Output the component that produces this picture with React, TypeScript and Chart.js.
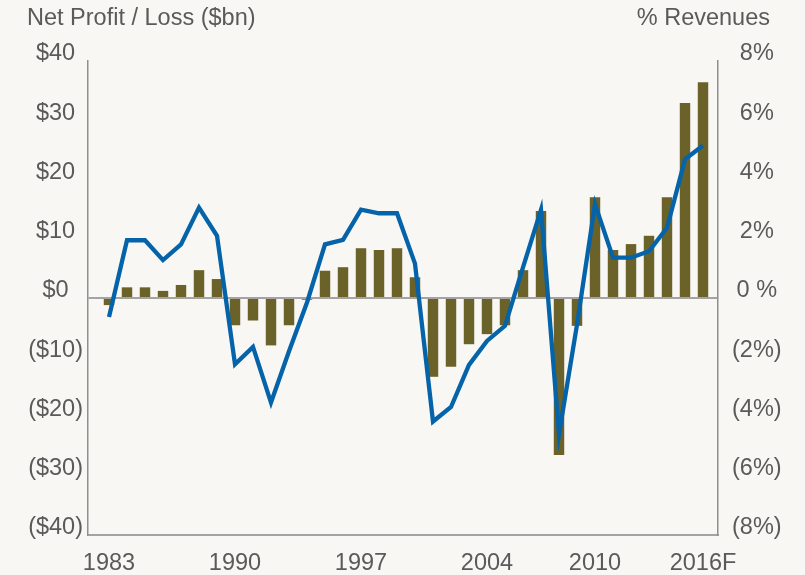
import React, { useEffect, useRef } from 'react';
import { Chart, registerables } from 'chart.js';

Chart.register(...registerables);

// ---- data ----
const years: string[] = [
  '1983', '1984', '1985', '1986', '1987', '1988', '1989', '1990', '1991', '1992',
  '1993', '1994', '1995', '1996', '1997', '1998', '1999', '2000', '2001', '2002',
  '2003', '2004', '2005', '2006', '2007', '2008', '2009', '2010', '2011', '2012',
  '2013', '2014', '2015', '2016F',
];

// Net profit / loss, $bn (bars, left axis)
const netProfit: number[] = [
  -1.2, 1.8, 1.8, 1.2, 2.2, 4.7, 3.2, -4.6, -3.8, -8.0,
  -4.6, -0.3, 4.6, 5.2, 8.4, 8.1, 8.4, 3.5, -13.3, -11.6,
  -7.8, -6.1, -4.6, 4.7, 14.7, -26.5, -4.7, 17.0, 8.1, 9.1,
  10.5, 17.0, 32.9, 36.4,
];

// Net margin, % of revenues (line, right axis)
const pctRevenue: number[] = [
  -0.64, 1.95, 1.95, 1.28, 1.81, 3.05, 2.1, -2.24, -1.65, -3.53,
  -1.8, -0.15, 1.81, 1.96, 2.98, 2.86, 2.86, 1.16, -4.17, -3.68,
  -2.26, -1.45, -0.94, 1.03, 2.98, -4.6, -0.9, 3.17, 1.36, 1.36,
  1.58, 2.37, 4.68, 5.15,
];

const xTickYears: string[] = ['1983', '1990', '1997', '2004', '2010', '2016F'];

const leftTitle = 'Net Profit / Loss ($bn)';
const rightTitle = '% Revenues';

// ---- styles ----
const FONT = '"Liberation Sans", Arial, Helvetica, sans-serif';
const TEXT = '#5a5a5a';
const OLIVE = '#6b6229';
const BLUE = '#0563a9';
const BG = '#f8f7f4';
const AXIS = '#8f8f8f';

export default function App() {
  const ref = useRef<HTMLCanvasElement | null>(null);

  useEffect(() => {
    if (!ref.current) return;
    const font = { family: FONT, size: 23.5 };
    const chart = new Chart(ref.current, {
      type: 'bar',
      data: {
        datasets: [
          {
            type: 'line',
            data: pctRevenue.map((v, i) => ({ x: i, y: v })),
            yAxisID: 'y1',
            borderColor: BLUE,
            backgroundColor: BLUE,
            borderWidth: 4.3,
            pointRadius: 0,
            tension: 0,
            borderJoinStyle: 'miter',
            order: 0,
          } as any,
          {
            type: 'bar',
            data: netProfit.map((v, i) => ({ x: i, y: v })),
            yAxisID: 'y',
            backgroundColor: OLIVE,
            barPercentage: 0.58,
            categoryPercentage: 1,
            order: 1,
          } as any,
        ],
      },
      options: {
        responsive: false,
        maintainAspectRatio: false,
        animation: false,
        layout: { padding: { top: 61, left: 0, right: 0, bottom: 0 } },
        plugins: {
          legend: { display: false },
          tooltip: { enabled: false },
        },
        scales: {
          x: {
            type: 'linear',
            offset: false,
            min: -21 / 18,
            max: 33 + 15 / 18,
            grid: { display: false },
            border: { display: true, color: '#a3a3a3', width: 2 },
            afterBuildTicks: (s: any) => {
              s.ticks = xTickYears.map((y) => ({ value: years.indexOf(y) }));
            },
            afterFit: (s: any) => {
              s.height = 40;
            },
            ticks: {
              autoSkip: false,
              maxRotation: 0,
              padding: 6,
              color: TEXT,
              font,
              callback: (v: any) => years[Math.round(Number(v))] ?? '',
            },
          },
          y: {
            position: 'left',
            min: -40,
            max: 40,
            afterFit: (s: any) => {
              s.width = 88;
            },
            grid: {
              drawTicks: false,
              lineWidth: 2,
              color: (ctx: any) =>
                ctx.tick && ctx.tick.value === 0 ? '#a3a3a3' : 'rgba(0,0,0,0)',
            },
            border: { display: true, color: AXIS, width: 1.5 },
            ticks: {
              stepSize: 10,
              autoSkip: false,
              padding: 5,
              crossAlign: 'center',
              labelOffset: -7,
              color: TEXT,
              font,
              callback: (v: any) => (v < 0 ? `($${-v})` : `$${v}`),
            },
          },
          y1: {
            position: 'right',
            min: -8,
            max: 8,
            afterFit: (s: any) => {
              s.width = 87;
            },
            grid: { display: false, drawTicks: false },
            border: { display: true, color: AXIS, width: 1.5 },
            ticks: {
              stepSize: 2,
              autoSkip: false,
              padding: 14,
              crossAlign: 'center',
              labelOffset: -7,
              color: TEXT,
              font,
              callback: (v: any) => (v === 0 ? '0 %' : v < 0 ? `(${-v}%)` : `${v}%`),
            },
          },
        },
      } as any,
    });
    return () => chart.destroy();
  }, []);

  const titleStyle: React.CSSProperties = {
    position: 'absolute',
    top: 6,
    fontFamily: FONT,
    fontSize: 23.5,
    lineHeight: '23.5px',
    color: TEXT,
    whiteSpace: 'nowrap',
  };

  return (
    <div
      style={{
        position: 'fixed',
        left: 0,
        top: 0,
        width: 805,
        height: 575,
        background: BG,
        overflow: 'hidden',
      }}
    >
      <canvas ref={ref} width={805} height={575} style={{ display: 'block' }} />
      <span style={{ ...titleStyle, left: 27 }}>{leftTitle}</span>
      <span style={{ ...titleStyle, right: 35 }}>{rightTitle}</span>
    </div>
  );
}
